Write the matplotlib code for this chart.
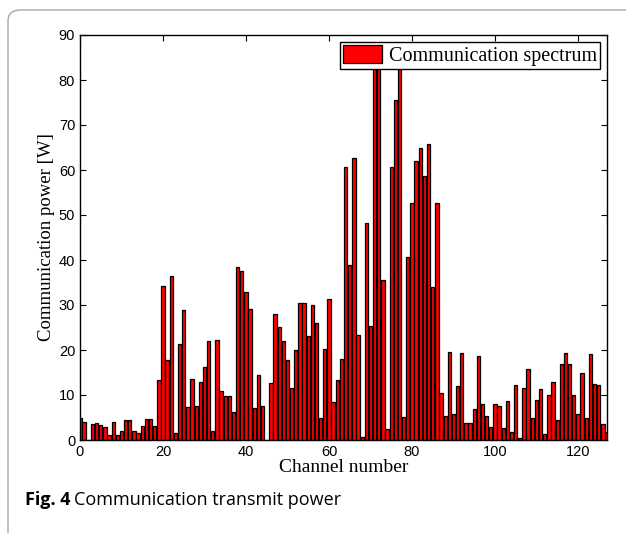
import matplotlib
matplotlib.use("Agg")
import matplotlib.pyplot as plt
import numpy as np
from matplotlib.patches import FancyBboxPatch

channels = list(range(128))
power = [
    4.8, 3.9, 0.0, 3.6, 3.7, 3.3, 2.9, 1.1, 3.9, 1.2,
    1.9, 4.5, 4.4, 2.1, 1.6, 3.1, 4.6, 4.6, 3.1, 13.3,
    34.3, 17.8, 36.4, 1.5, 21.3, 28.8, 7.3, 13.6, 7.6, 13.0,
    16.3, 22.1, 2.0, 22.2, 11.0, 9.8, 9.8, 6.2, 38.4, 37.6,
    32.9, 29.2, 7.1, 14.5, 7.6, 0.0, 12.7, 28.1, 25.1, 21.9,
    17.8, 11.6, 20.1, 30.5, 30.5, 23.1, 30.0, 25.9, 5.0, 20.3,
    31.3, 8.4, 13.4, 17.9, 60.6, 39.0, 62.6, 23.3, 0.7, 48.2,
    25.3, 88.0, 86.0, 35.6, 2.4, 60.6, 75.5, 87.0, 5.2, 40.7,
    52.6, 62.0, 65.0, 58.7, 65.7, 33.9, 52.6, 10.5, 5.3, 19.6,
    5.7, 12.0, 19.3, 3.7, 3.8, 6.8, 18.6, 7.9, 5.4, 3.0,
    7.9, 7.5, 2.7, 8.7, 1.8, 12.3, 0.4, 11.5, 15.8, 4.8,
    9.0, 11.4, 1.3, 9.9, 12.8, 4.5, 16.8, 19.3, 16.9, 10.1,
    5.7, 14.9, 4.8, 19.1, 12.4, 12.2, 3.5, 1.8,
]
x_ticks = [0, 20, 40, 60, 80, 100, 120]
y_ticks = [0, 10, 20, 30, 40, 50, 60, 70, 80, 90]

W, H = 626, 533
fig = plt.figure(figsize=(W / 100, H / 100), dpi=100)

# journal frame
frame = FancyBboxPatch((8 / W, -0.05), 1.2, (H - 10) / H + 0.05,
                       boxstyle="round,pad=0,rounding_size=0.02",
                       transform=fig.transFigure, fill=False,
                       edgecolor="#a8a8a8", linewidth=1.0, clip_on=False)
fig.patches.append(frame)

ax = fig.add_axes([80 / W, (H - 440) / H, (607 - 80) / W, (440 - 35) / H])
ax.bar(channels, power, width=0.8, color="#ff0000", edgecolor="black",
       linewidth=0.9, label="Communication spectrum", zorder=2)
ax.set_xlim(0, 127)
ax.set_ylim(0, 90)
ax.set_xticks(x_ticks)
ax.set_yticks(y_ticks)
ax.tick_params(direction="in", top=True, right=True, length=4, width=0.8,
               labelsize=10.5)
for lab in ax.get_xticklabels() + ax.get_yticklabels():
    lab.set_family("Liberation Sans")
for s in ax.spines.values():
    s.set_linewidth(1.0)

ax.set_xlabel("Channel number", family="Liberation Serif", fontsize=14, labelpad=0)
ax.set_ylabel("Communication power [W]", family="Liberation Serif", fontsize=13.5, labelpad=3)

leg = ax.legend(loc="upper right", prop={"family": "Liberation Serif", "size": 14.5},
                frameon=True, fancybox=False, edgecolor="black", framealpha=1,
                borderpad=0.15, handlelength=1.9, handleheight=1.0,
                handletextpad=0.35, borderaxespad=0.35)
leg.get_frame().set_linewidth(1.0)
leg.set_zorder(5)

t1 = fig.text(25 / W, (H - 505) / H, "Fig. 4", family="Open Sans", fontweight="bold",
              fontsize=13, va="baseline", ha="left")
fig.canvas.draw()
bb = t1.get_window_extent()
fig.text((bb.x1 + 4) / W, (H - 505) / H, "Communication transmit power",
         family="Open Sans", fontsize=13, va="baseline", ha="left")

fig.savefig("out.png", dpi=100)
